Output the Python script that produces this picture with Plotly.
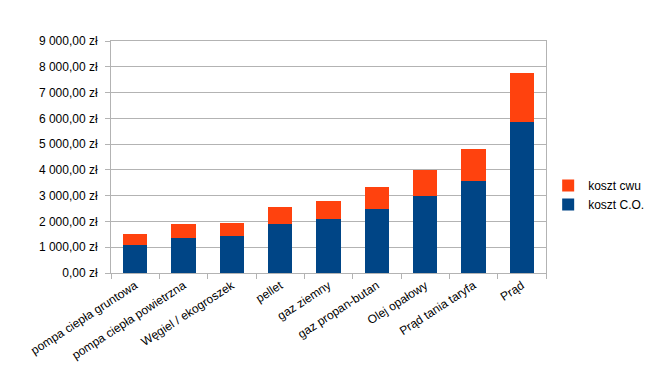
import plotly.graph_objects as go

categories = ["pompa ciepła gruntowa", "pompa ciepła powietrzna", "Węgiel / ekogroszek",
              "pellet", "gaz ziemny", "gaz propan-butan", "Olej opałowy",
              "Prąd tania taryfa", "Prąd"]
koszt_co = [1100, 1370, 1450, 1915, 2095, 2500, 3000, 3585, 5860]
koszt_cwu = [430, 545, 500, 635, 685, 825, 985, 1215, 1915]
tick_vals = [0, 1000, 2000, 3000, 4000, 5000, 6000, 7000, 8000, 9000]
tick_text = ["0,00 zł", "1 000,00 zł", "2 000,00 zł", "3 000,00 zł", "4 000,00 zł",
             "5 000,00 zł", "6 000,00 zł", "7 000,00 zł", "8 000,00 zł", "9 000,00 zł"]

fig = go.Figure()
fig.add_trace(go.Bar(x=categories, y=koszt_co, name="koszt C.O.",
                     marker=dict(color="#004586", line=dict(width=0))))
fig.add_trace(go.Bar(x=categories, y=koszt_cwu, name="koszt cwu",
                     marker=dict(color="#FF420E", line=dict(width=0))))

grid = "#b3b3b3"
fig.update_layout(
    width=645, height=379,
    barmode="stack", bargap=0.49,
    paper_bgcolor="white", plot_bgcolor="white",
    margin=dict(l=103, r=107, t=33, b=114, autoexpand=False),
    font=dict(family="Liberation Sans, Arial, sans-serif", size=12, color="#000000"),
    legend=dict(x=1.005, y=0.336, xanchor="left", yanchor="middle",
                traceorder="reversed", font=dict(size=12),
                itemwidth=30, tracegroupgap=0),
    showlegend=True,
)
fig.update_xaxes(type="category", tickangle=-33, tickson="boundaries",
                 ticks="outside", ticklen=5, tickcolor=grid, automargin=False,
                 showline=True, linecolor=grid, mirror=True, showgrid=False,
                 tickfont=dict(size=12))
fig.update_yaxes(range=[0, 9000], tickvals=tick_vals, ticktext=tick_text,
                 ticks="outside", ticklen=5, tickcolor=grid, automargin=False,
                 ticklabelstandoff=5,
                 showline=True, linecolor=grid, mirror=True,
                 showgrid=True, gridcolor=grid, gridwidth=1, zeroline=False,
                 tickfont=dict(size=12))

fig.write_html("out.html")
